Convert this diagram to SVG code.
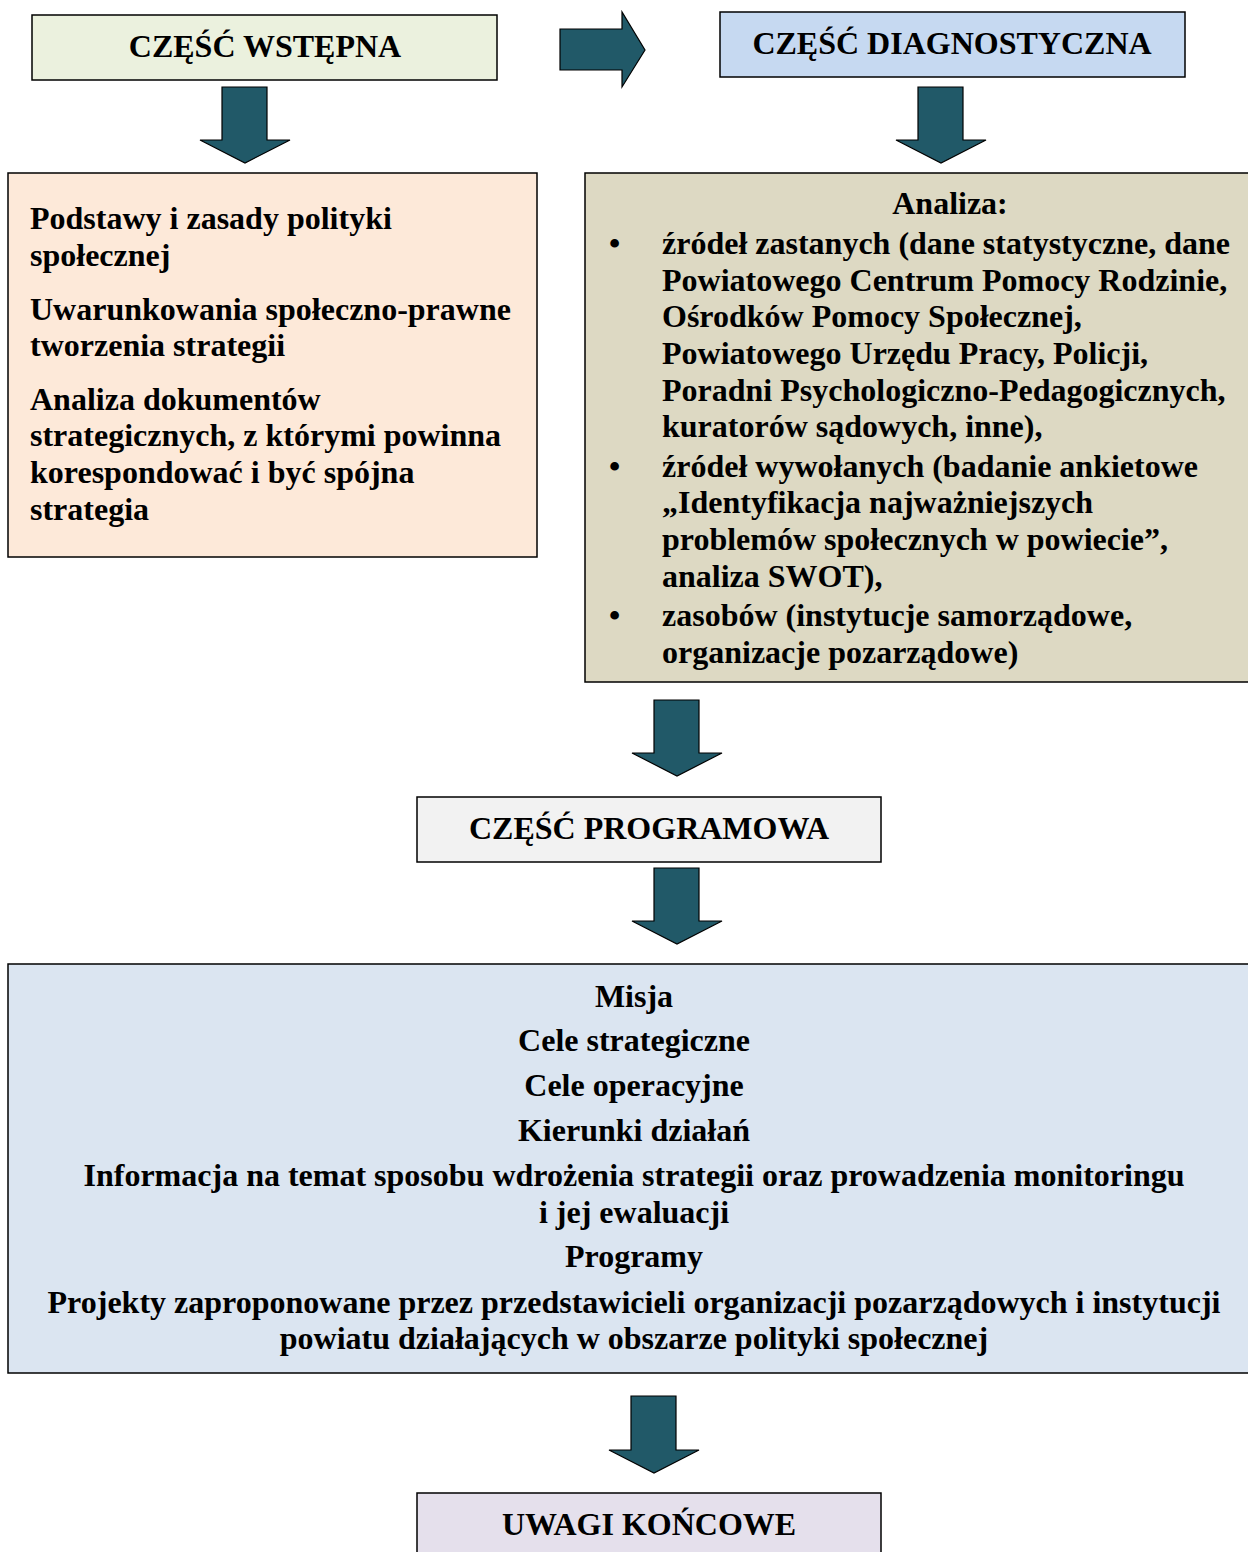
<svg xmlns="http://www.w3.org/2000/svg" width="1248" height="1552" viewBox="0 0 1248 1552">
<style>
.box{stroke:#000;stroke-width:1.5}
.arr{fill:#215968;stroke:#000;stroke-width:1.2}
text{font-family:"Liberation Serif","Times New Roman",serif;font-weight:bold;font-size:32px;fill:#000}
.c{text-anchor:middle}
</style>
<rect width="1248" height="1552" fill="#fff"/>
<g id="connectors">
<path class="arr" d="M560,29 H622 V12 L645,50 L622,87 V70 H560 Z"/>
<path class="arr" d="M222,87 H267 V140 H290 L245,163 L200,140 H222 Z"/>
<path class="arr" d="M918,87 H963 V140 H986 L941,163 L896,140 H918 Z"/>
<path class="arr" d="M654,700 H699 V753 H722 L677,776 L632,753 H654 Z"/>
<path class="arr" d="M654,868 H699 V921 H722 L677,944 L632,921 H654 Z"/>
<path class="arr" d="M631,1396 H676 V1450 H699 L654,1473 L609,1450 H631 Z"/>
</g>
<g id="wstepna">
<rect class="box" x="32" y="15" width="465" height="65" fill="#ebf1de"/>
<text class="c" x="265" y="57">CZĘŚĆ WSTĘPNA</text>
</g>
<g id="diagnostyczna">
<rect class="box" x="720" y="12" width="465" height="65" fill="#c6d9f1"/>
<text class="c" x="952" y="54">CZĘŚĆ DIAGNOSTYCZNA</text>
</g>
<g id="podstawy">
<rect class="box" x="8" y="173" width="529" height="384" fill="#fde9d9"/>
<text x="30" y="229">Podstawy i zasady polityki</text>
<text x="30" y="266">społecznej</text>
<text x="30" y="320">Uwarunkowania społeczno-prawne</text>
<text x="30" y="356">tworzenia strategii</text>
<text x="30" y="410">Analiza dokumentów</text>
<text x="30" y="446">strategicznych, z którymi powinna</text>
<text x="30" y="483">korespondować i być spójna</text>
<text x="30" y="520">strategia</text>
</g>
<g id="analiza">
<rect class="box" x="585" y="173" width="670" height="509" fill="#ddd9c3"/>
<text class="c" x="950" y="214">Analiza:</text>
<text x="609" y="254">•</text>
<text x="662" y="254">źródeł zastanych (dane statystyczne, dane</text>
<text x="662" y="291">Powiatowego Centrum Pomocy Rodzinie,</text>
<text x="662" y="327">Ośrodków Pomocy Społecznej,</text>
<text x="662" y="364">Powiatowego Urzędu Pracy, Policji,</text>
<text x="662" y="401">Poradni Psychologiczno-Pedagogicznych,</text>
<text x="662" y="437">kuratorów sądowych, inne),</text>
<text x="609" y="477">•</text>
<text x="662" y="477">źródeł wywołanych (badanie ankietowe</text>
<text x="662" y="513">„Identyfikacja najważniejszych</text>
<text x="662" y="550">problemów społecznych w powiecie”,</text>
<text x="662" y="587">analiza SWOT),</text>
<text x="609" y="626">•</text>
<text x="662" y="626">zasobów (instytucje samorządowe,</text>
<text x="662" y="663">organizacje pozarządowe)</text>
</g>
<g id="programowa">
<rect class="box" x="417" y="797" width="464" height="65" fill="#f2f2f2"/>
<text class="c" x="649" y="839">CZĘŚĆ PROGRAMOWA</text>
</g>
<g id="misja">
<rect class="box" x="8" y="964" width="1250" height="409" fill="#dbe5f1"/>
<text class="c" x="634" y="1007">Misja</text>
<text class="c" x="634" y="1051">Cele strategiczne</text>
<text class="c" x="634" y="1096">Cele operacyjne</text>
<text class="c" x="634" y="1141">Kierunki działań</text>
<text class="c" x="634" y="1186">Informacja na temat sposobu wdrożenia strategii oraz prowadzenia monitoringu</text>
<text class="c" x="634" y="1223">i jej ewaluacji</text>
<text class="c" x="634" y="1267">Programy</text>
<text class="c" x="634" y="1313">Projekty zaproponowane przez przedstawicieli organizacji pozarządowych i instytucji</text>
<text class="c" x="634" y="1349">powiatu działających w obszarze polityki społecznej</text>
</g>
<g id="uwagi">
<rect class="box" x="417" y="1493" width="464" height="70" fill="#e5e0ec"/>
<text class="c" x="649" y="1535">UWAGI KOŃCOWE</text>
</g>
</svg>
